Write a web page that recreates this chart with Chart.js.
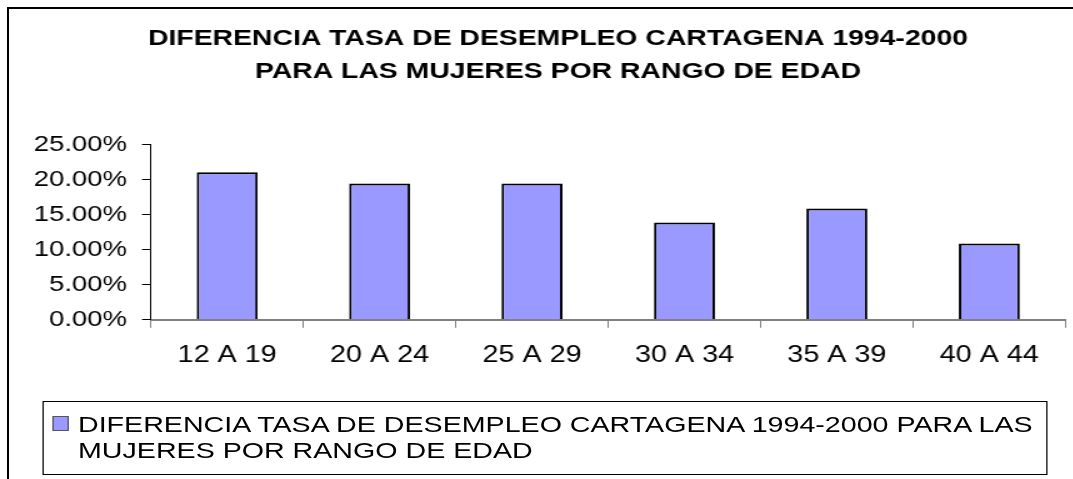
<!DOCTYPE html>
<html>
<head>
<meta charset="utf-8">
<script src="https://cdn.jsdelivr.net/npm/chart.js@4.4.0/dist/chart.umd.min.js"></script>
<style>
  html, body { margin: 0; padding: 0; background: #fff; }
  body { width: 1073px; height: 479px; overflow: hidden; position: relative; font-family: 'Liberation Sans', Arial, sans-serif; }
  /* outer chart frame: only top and left edges are visible */
  #frame { position: absolute; left: 7px; top: 7px; width: 1090px; height: 490px; border-top: 2px solid #000; border-left: 2px solid #000; }
  /* the original picture is stretched horizontally */
  #stretch { position: absolute; left: 0; top: 0; width: 858px; height: 479px; transform: scaleX(1.25); transform-origin: 0 0; }
  #myChart { position: absolute; left: 0; top: 0; }
  #legendBox { position: absolute; left: 33.6px; top: 401px; width: 802px; height: 72px; border: 1px solid #000; }
  #legendMark { position: absolute; left: 7px; top: 14px; width: 11px; height: 13px; border: 1px solid #555; }
  #legendText { position: absolute; left: 27.8px; top: 8.5px; width: 770px; font-size: 22.9px; line-height: 26px; color: #000; }
</style>
</head>
<body>
<div id="frame"></div>
<div id="stretch">
  <canvas id="myChart" width="858" height="396"></canvas>
  <div id="legendBox"><div id="legendMark"></div><div id="legendText"></div></div>
</div>
<script>
const categories = ['12 A 19', '20 A 24', '25 A 29', '30 A 34', '35 A 39', '40 A 44'];
const values = [0.211, 0.195, 0.195, 0.139, 0.159, 0.109];
const yTicks = [0, 0.05, 0.10, 0.15, 0.20, 0.25];
const seriesName = 'DIFERENCIA TASA DE DESEMPLEO CARTAGENA 1994-2000 PARA LAS MUJERES POR RANGO DE EDAD';
const titleLines = ['DIFERENCIA TASA DE DESEMPLEO CARTAGENA 1994-2000', 'PARA LAS MUJERES POR RANGO DE EDAD'];

const fam = "'Liberation Sans', Arial, sans-serif";
const barColor = '#9999FF';

const data = {
  labels: categories,
  datasets: [{
    label: seriesName,
    data: values,
    backgroundColor: barColor,
    borderColor: '#000',
    borderWidth: 2,
    barPercentage: 0.4,
    categoryPercentage: 1
  }]
};

// y labels hang left of the (narrowed) axis box, so widen its clip area
const unclipY = {
  id: 'unclipY',
  afterLayout: function(chart) {
    chart.scales.y.left = 0;
  }
};

const config = {
  type: 'bar',
  data: data,
  plugins: [unclipY],
  options: {
    responsive: false,
    animation: false,
    layout: { padding: { left: 40.4, right: 5.6, top: 0, bottom: 12.6 } },
    plugins: {
      legend: { display: false },
      tooltip: { enabled: false },
      title: {
        display: true,
        text: titleLines,
        color: '#000',
        font: { family: fam, size: 22.7, weight: 'bold', lineHeight: 1.43 },
        padding: { top: 23, bottom: 57 }
      }
    },
    scales: {
      x: {
        grid: { drawOnChartArea: false, drawTicks: true, tickLength: 8, color: '#808080', lineWidth: 1, offset: true },
        border: { color: '#808080', width: 2 },
        ticks: { color: '#000', font: { family: fam, size: 23 }, padding: 14, maxRotation: 0 }
      },
      y: {
        min: 0,
        max: 0.25,
        afterBuildTicks: function(scale) {
          scale.ticks = yTicks.map(v => ({ value: v }));
        },
        afterFit: function(scale) {
          scale.width = 80.4;
        },
        grid: { drawOnChartArea: false, tickLength: 7.2, color: '#000' },
        border: { color: '#000', width: 1 },
        ticks: {
          color: '#000',
          font: { family: fam, size: 22 },
          padding: 12,
          callback: function(value) {
            return (value * 100).toFixed(2) + '%';
          }
        }
      }
    }
  }
};

const myChart = new Chart(document.getElementById('myChart'), config);

// legend box built from the dataset
document.getElementById('legendMark').style.background = data.datasets[0].backgroundColor;
document.getElementById('legendText').textContent = data.datasets[0].label;
</script>
</body>
</html>
